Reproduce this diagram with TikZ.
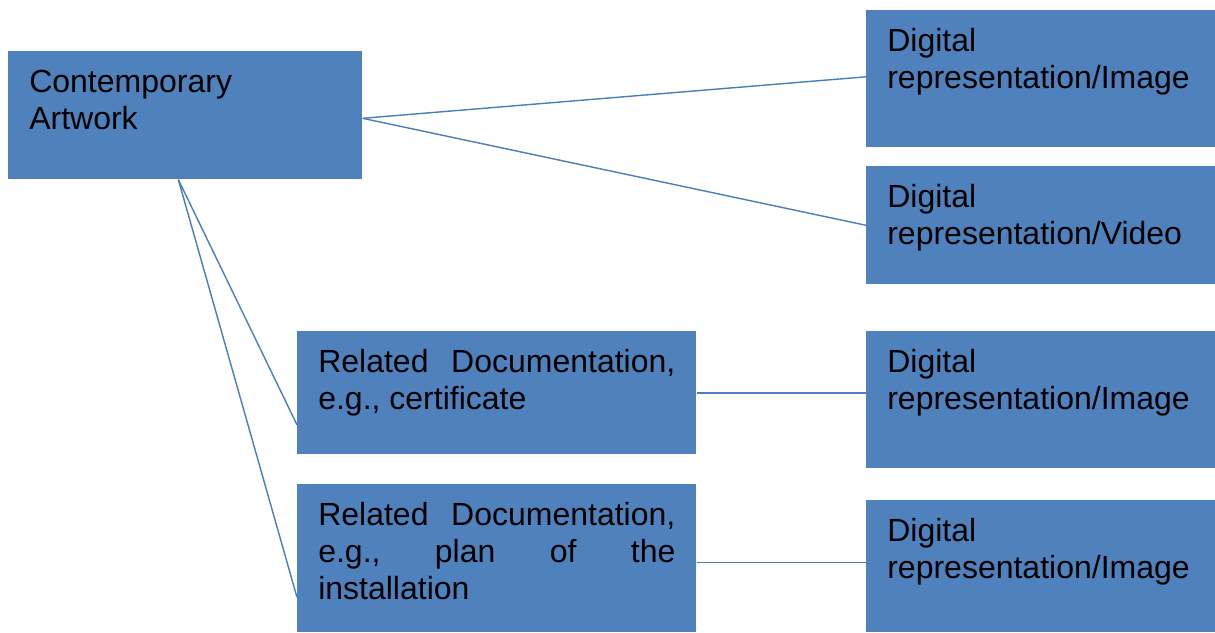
\documentclass[tikz,border=0pt]{standalone}
\usepackage{fontspec}
\setmainfont{Liberation Sans}
\definecolor{boxblue}{HTML}{4F81BD}
\definecolor{lineblue}{HTML}{4A7EBB}
\newcommand{\boxtext}[3]{\parbox[c][#2][t]{#1}{\vspace*{0.375cm}\strut #3}}
\tikzset{
    box/.style={fill=boxblue, anchor=north west, inner xsep=0.525cm, inner ysep=0pt,
      font=\fontsize{22.76}{26.3}\selectfont},
    link/.style={draw=lineblue, line width=1pt}
  }

\begin{document}
\begin{tikzpicture}[x=0.025cm, y=-0.025cm]
            \useasboundingbox (0,0) rectangle (1215,632);
            \node (art) [box] at (8,51) {\boxtext{7.8cm}{3.2cm}{Contemporary\\Artwork}};
            \node (img1) [box] at (866,10) {\boxtext{7.675cm}{3.425cm}{Digital\\representation/Image}};
            \node (vid) [box] at (866,166) {\boxtext{7.675cm}{2.95cm}{Digital\\representation/Video}};
            \node (doc1) [box] at (297,331) {\boxtext{8.925cm}{3.075cm}{Related\hfill Documentation,\\e.g., certificate}};
            \node (img2) [box] at (866,331) {\boxtext{7.675cm}{3.425cm}{Digital\\representation/Image}};
            \node (doc2) [box] at (297,484) {\boxtext{8.925cm}{3.7cm}{Related\hfill Documentation,\\e.g.,\hfill plan\hfill of\hfill the\\installation}};
            \node (img3) [box] at (866,500) {\boxtext{7.675cm}{3.3cm}{Digital\\representation/Image}};
            \draw[link] ([yshift=-0.075cm]art.east) -- ([yshift=0.05cm]img1.west);
            \draw[link] ([yshift=-0.075cm]art.east) -- (vid.west);
            \draw[link] ([xshift=-0.175cm]art.south) -- ([yshift=-0.8cm]doc1.west);
            \draw[link] ([xshift=-0.175cm]art.south) -- ([yshift=-0.975cm]doc2.west);
            \draw[link] (doc1.east) -- (doc1.east -| img2.west);
            \draw[link] ([yshift=-0.1cm]doc2.east) -- ([yshift=-0.1cm]doc2.east -| img3.west);
        \end{tikzpicture}
\end{document}
